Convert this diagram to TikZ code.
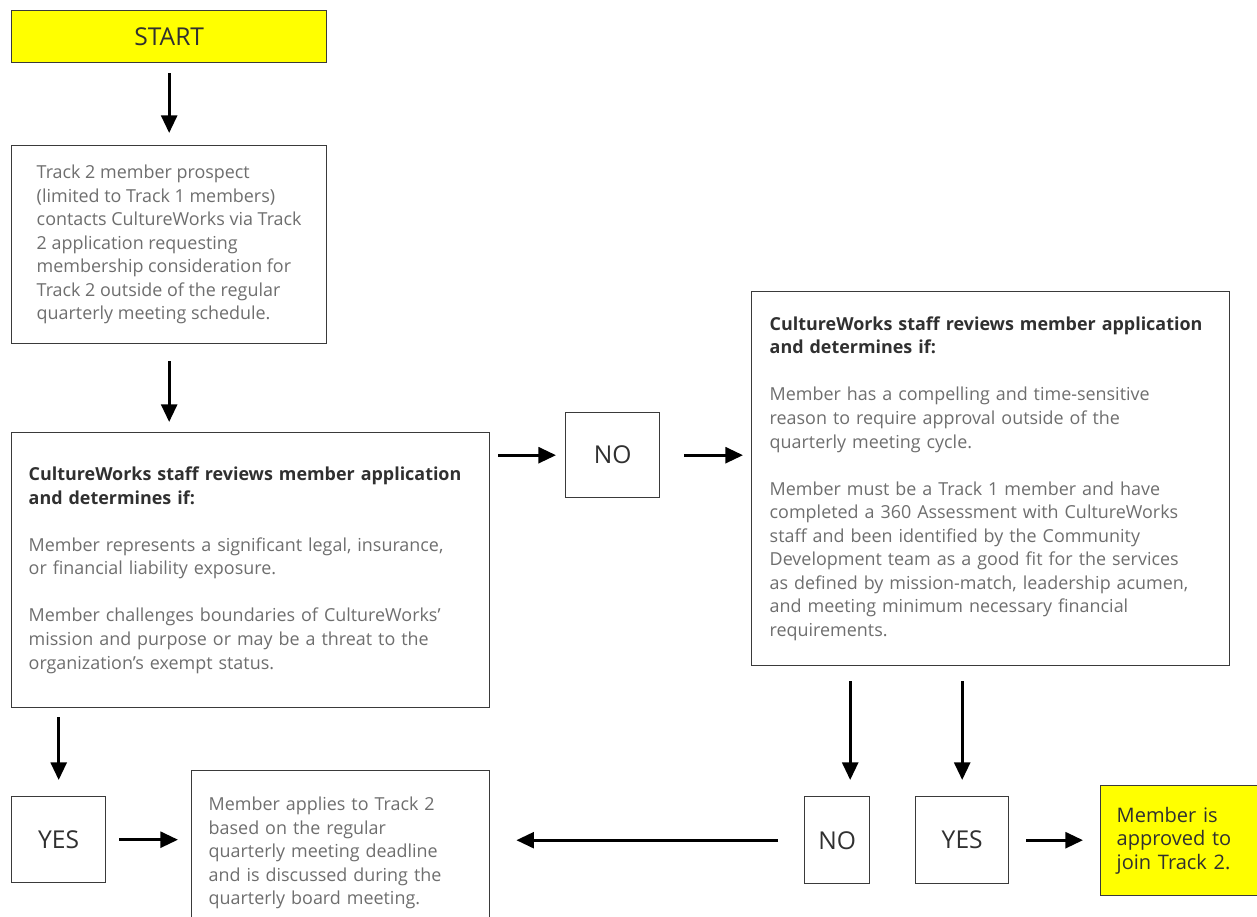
\documentclass[tikz,border=0pt]{standalone}
\usepackage{fontspec}
\setmainfont{Open Sans}
\usepackage{tikz}
\usetikzlibrary{arrows.meta}

\definecolor{boxline}{HTML}{3A3A3A}
\definecolor{bodytxt}{HTML}{6E6E6E}
\definecolor{headtxt}{HTML}{303030}
\definecolor{startyel}{HTML}{FFFF00}

\newcommand{\bodyfont}{\fontsize{10.2pt}{13.4pt}\selectfont}
\newcommand{\bigfont}{\fontsize{14pt}{16pt}\selectfont}
\newcommand{\head}[1]{{\bfseries\color{headtxt}#1}}

\begin{document}
\begin{tikzpicture}[x=0.02cm,y=-0.02cm,
    box/.style={draw=boxline,line width=0.8pt,anchor=north west,align=left,
      text=bodytxt,font=\bodyfont,inner ysep=0pt},
    choice/.style={draw=boxline,line width=0.8pt,anchor=north west,
      font=\bigfont,text=headtxt,inner sep=0pt},
    arr/.style={-{Triangle[length=10pt,width=9pt]},line width=1.7pt,black}]
    \path[use as bounding box,fill=white] (0,0) rectangle (1257,916) ;

    \node[choice,fill=startyel,minimum width=6.30cm,minimum height=1.04cm]
      (start) at (11,10) {START};

    \node[box,minimum width=6.30cm,minimum height=3.96cm]
      (track) at (11,145) {Track 2 member prospect\\(limited to Track 1 members)\\
      contacts CultureWorks via Track\\2 application requesting\\
      membership consideration for\\Track 2 outside of the regular\\
      quarterly meeting schedule.};

    \node[box,text width=8.88cm,inner xsep=0.34cm,minimum height=5.50cm]
      (review) at (11,432) {\head{CultureWorks staff reviews member application}\\
      \head{and determines if:}\\[13.4pt]
      Member represents a significant legal, insurance,\\
      or financial liability exposure.\\[13.4pt]
      Member challenges boundaries of CultureWorks'\\
      mission and purpose or may be a threat to the\\
      organization's exempt status.};

    \node[choice,minimum width=1.88cm,minimum height=1.70cm] (no1) at (565,412) {NO};

    \node[box,text width=8.84cm,inner xsep=0.36cm,minimum height=7.48cm]
      (check) at (751,291) {\head{CultureWorks staff reviews member application}\\
      \head{and determines if:}\\[13.4pt]
      Member has a compelling and time-sensitive\\
      reason to require approval outside of the\\
      quarterly meeting cycle.\\[13.4pt]
      Member must be a Track 1 member and have\\
      completed a 360 Assessment with CultureWorks\\
      staff and been identified by the Community\\
      Development team as a good fit for the services\\
      as defined by mission-match, leadership acumen,\\
      and meeting minimum necessary financial\\
      requirements.\\[16pt]};

    \node[choice,minimum width=1.88cm,minimum height=1.72cm] (yes1) at (11,796) {YES};

    \node[box,text width=5.28cm,inner xsep=0.34cm,minimum height=3.30cm]
      (apply) at (191,770) {Member applies to Track 2\\based on the regular\\
      quarterly meeting deadline\\and is discussed during the\\
      quarterly board meeting.\\[10pt]};

    \node[choice,minimum width=1.30cm,minimum height=1.74cm] (no2) at (804,796) {NO};
    \node[choice,minimum width=1.86cm,minimum height=1.74cm] (yes2) at (915,796) {YES};

    \node[box,fill=startyel,text=headtxt,text width=2.60cm,inner xsep=0.32cm,
      minimum height=2.20cm,font=\fontsize{11.4pt}{13.4pt}\selectfont]
      (approved) at (1100,785) {Member is\\approved to\\join Track 2.};

    % connectors
    \draw[arr,shorten <=0.2cm,shorten >=0.24cm] (start) -- (track) ;
    \draw[arr,shorten <=0.34cm,shorten >=0.2cm] (track.south) -- (track.south |- review.north) ;
    \draw[arr,shorten <=0.16cm,shorten >=0.18cm] (review.east |- no1) -- (no1) ;
    \draw[arr,shorten <=0.48cm,shorten >=0.16cm] (no1) -- (no1 -| check.west) ;
    \draw[arr,shorten <=0.3cm,shorten >=0.32cm] ([xshift=0.26cm]no2.north |- check.south)
      -- ([xshift=0.26cm]no2.north) ;
    \draw[arr,shorten <=0.3cm,shorten >=0.32cm] (yes2.north |- check.south) -- (yes2) ;
    \draw[arr,shorten <=0.34cm,shorten >=0.34cm] (yes2) -- (yes2 -| approved.west) ;
    \draw[arr,shorten <=0.52cm,shorten >=0.52cm] (no2) -- (no2 -| apply.east) ;
    \draw[arr,shorten <=0.18cm,shorten >=0.32cm] (yes1.north |- review.south) -- (yes1) ;
    \draw[arr,shorten <=0.26cm,shorten >=0.26cm] (yes1) -- (yes1 -| apply.west) ;
\end{tikzpicture}
\end{document}
